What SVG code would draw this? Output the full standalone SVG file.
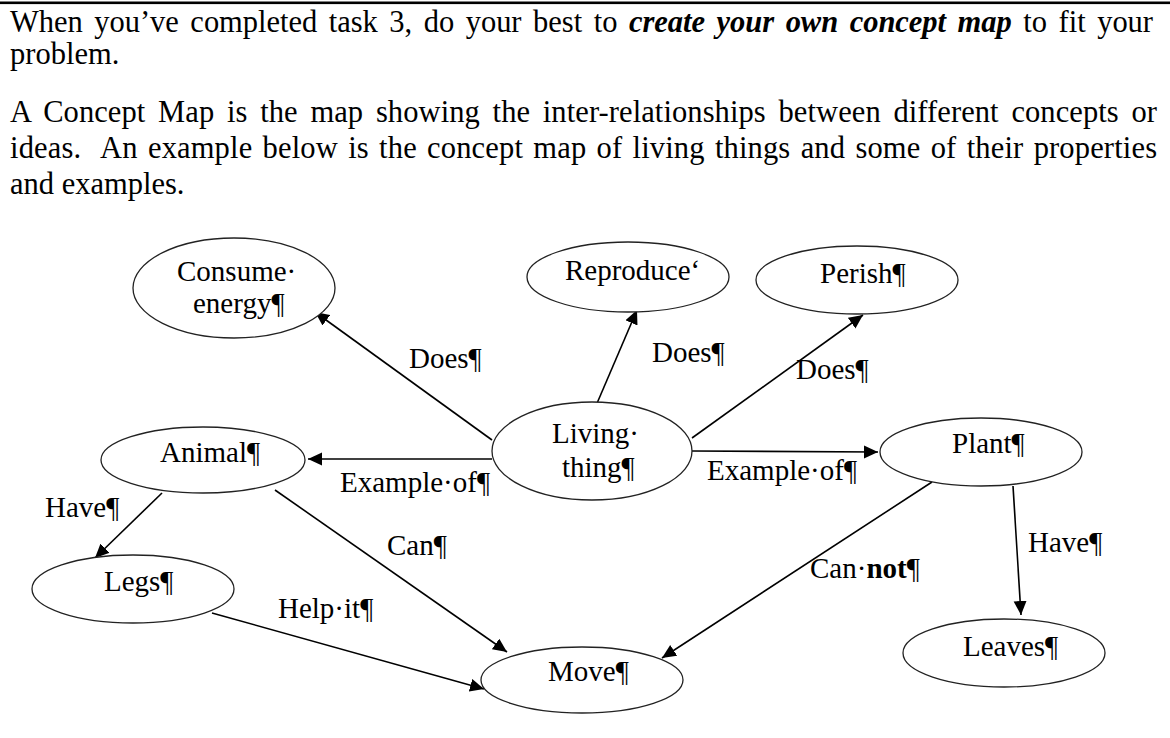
<svg xmlns="http://www.w3.org/2000/svg" width="1170" height="738" viewBox="0 0 1170 738">
<style>
  .para { font-family: "Liberation Serif", "Times New Roman", serif; font-size: 30.5px; fill: #000; }
  .bi { font-weight: bold; font-style: italic; }
  .node ellipse { fill: #fff; stroke: #222; stroke-width: 1.3; }
  .lbl { font-family: "Liberation Serif", "Times New Roman", serif; font-size: 29px; fill: #000; }
  .edge { stroke: #000; stroke-width: 1.6; fill: none; marker-end: url(#arrow); }
</style>
<defs>
  <marker id="arrow" markerUnits="userSpaceOnUse" markerWidth="16" markerHeight="14" refX="14" refY="6.5" orient="auto">
    <path d="M0,0 L14,6.5 L0,13 z" fill="#000"/>
  </marker>
</defs>
<rect width="1170" height="738" fill="#fff"/>
<rect x="0" y="1.5" width="1170" height="2.6" fill="#000"/>

<g id="intro">
  <text class="para" x="10" y="32" textLength="1143" lengthAdjust="spacing" word-spacing="4">When you’ve completed task 3, do your best to <tspan class="bi">create your own concept map</tspan> to fit your</text>
  <text class="para" x="10" y="64">problem.</text>
  <text class="para" x="10" y="122" textLength="1147" lengthAdjust="spacing" word-spacing="5">A Concept Map is the map showing the inter-relationships between different concepts or</text>
  <text class="para" x="10" y="158" textLength="1147" lengthAdjust="spacing" word-spacing="2.5" xml:space="preserve">ideas.  An example below is the concept map of living things and some of their properties</text>
  <text class="para" x="10" y="194">and examples.</text>
</g>

<g id="connectors">
  <line class="edge" x1="492" y1="440" x2="315" y2="312"/>
  <line class="edge" x1="595" y1="408" x2="637" y2="310"/>
  <line class="edge" x1="692" y1="438" x2="863" y2="315"/>
  <line class="edge" x1="492" y1="459" x2="308" y2="459"/>
  <line class="edge" x1="692" y1="451" x2="878" y2="452"/>
  <line class="edge" x1="162" y1="493" x2="95" y2="558"/>
  <line class="edge" x1="275" y1="490" x2="507" y2="652"/>
  <line class="edge" x1="212" y1="613" x2="484" y2="689"/>
  <line class="edge" x1="932" y1="482" x2="662" y2="658"/>
  <line class="edge" x1="1013" y1="486" x2="1021" y2="615"/>
  <text class="lbl" x="409" y="368">Does¶</text>
  <text class="lbl" x="340" y="492">Example·of¶</text>
  <text class="lbl" x="652" y="362">Does¶</text>
  <text class="lbl" x="796" y="379">Does¶</text>
  <text class="lbl" x="707" y="480">Example·of¶</text>
  <text class="lbl" x="45" y="517">Have¶</text>
  <text class="lbl" x="387" y="555">Can¶</text>
  <text class="lbl" x="278" y="618">Help·it¶</text>
  <text class="lbl" x="810" y="578">Can·<tspan font-weight="bold">not</tspan>¶</text>
  <text class="lbl" x="1028" y="552">Have¶</text>
</g>

<g id="consume" class="node">
  <ellipse cx="234" cy="288" rx="101" ry="50"/>
  <text class="lbl" x="177" y="281">Consume·</text>
  <text class="lbl" x="193" y="313">energy¶</text>
</g>
<g id="reproduce" class="node">
  <ellipse cx="628" cy="277" rx="101" ry="35"/>
  <text class="lbl" x="565" y="280">Reproduce‘</text>
</g>
<g id="perish" class="node">
  <ellipse cx="857" cy="280" rx="101" ry="34"/>
  <text class="lbl" x="820" y="283">Perish¶</text>
</g>
<g id="living" class="node">
  <ellipse cx="592" cy="451" rx="100" ry="49"/>
  <text class="lbl" x="552" y="443">Living·</text>
  <text class="lbl" x="562" y="477">thing¶</text>
</g>
<g id="animal" class="node">
  <ellipse cx="203" cy="460" rx="102" ry="33"/>
  <text class="lbl" x="160" y="462">Animal¶</text>
</g>
<g id="plant" class="node">
  <ellipse cx="981" cy="452" rx="101" ry="34"/>
  <text class="lbl" x="952" y="453">Plant¶</text>
</g>
<g id="legs" class="node">
  <ellipse cx="133" cy="589" rx="101" ry="34"/>
  <text class="lbl" x="104" y="591">Legs¶</text>
</g>
<g id="move" class="node">
  <ellipse cx="582" cy="680" rx="101" ry="33"/>
  <text class="lbl" x="548" y="681">Move¶</text>
</g>
<g id="leaves" class="node">
  <ellipse cx="1004" cy="653" rx="101" ry="34"/>
  <text class="lbl" x="963" y="656">Leaves¶</text>
</g>
</svg>
